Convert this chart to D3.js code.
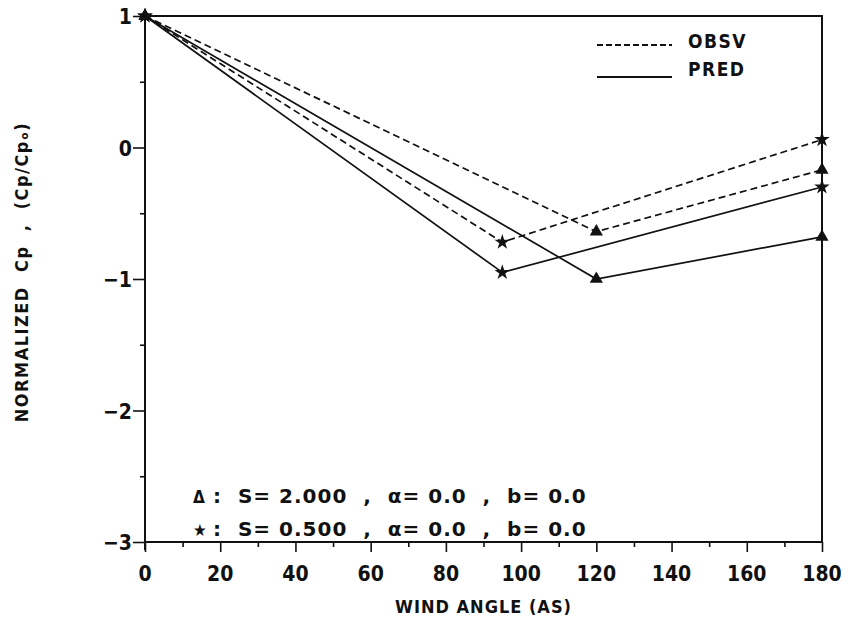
<!DOCTYPE html>
<html>
<head>
<meta charset="utf-8">
<script src="https://cdn.jsdelivr.net/npm/d3@7"></script>
<style>
  body { margin: 0; background: #fff; }
  text { font-family: "DejaVu Sans Condensed", "DejaVu Sans", sans-serif; font-weight: bold; fill: #111; }
</style>
</head>
<body>
<div id="chart"></div>
<script>
// wind angles and normalized Cp
var anglesTri = [0, 120, 180];
var obsvTri = [1, -0.64, -0.17];
var predTri = [1, -1.0, -0.68];

var anglesStar = [0, 95, 180];
var obsvStar = [1, -0.72, 0.06];
var predStar = [1, -0.95, -0.30];

var xTicks = [0, 20, 40, 60, 80, 100, 120, 140, 160, 180];
var yTicks = [1, 0, -1, -2, -3];

var W = 854, H = 623;
var pLeft = 145, pRight = 822, pTop = 16, pBottom = 542;

var svg = d3.select("#chart").append("svg")
    .attr("width", W)
    .attr("height", H);

var x = d3.scaleLinear().domain([0, 180]).range([pLeft, pRight]);
var y = d3.scaleLinear().domain([-3, 1]).range([pBottom, pTop]);

// box
svg.append("rect")
  .attr("x", pLeft).attr("y", pTop)
  .attr("width", pRight - pLeft).attr("height", pBottom - pTop)
  .attr("fill", "none").attr("stroke", "#111").attr("stroke-width", 2);

// x axis, ticks point down
svg.append("g")
  .attr("transform", "translate(0," + pBottom + ")")
  .call(d3.axisBottom(x).tickValues(d3.range(0, 181, 10)).tickSize(6).tickFormat(""))
  .call(function(g) { g.select(".domain").remove(); })
  .selectAll("line").attr("stroke", "#111").attr("stroke-width", 1.6)
  .attr("y2", function(d) { return d % 20 === 0 ? 10 : 5; });

svg.append("g")
  .attr("transform", "translate(0," + pBottom + ")")
  .selectAll("text")
  .data(xTicks)
  .enter()
  .append("text")
    .attr("x", function(d) { return x(d); })
    .attr("y", 39)
    .attr("text-anchor", "middle")
    .style("font-size", "21px")
    .text(function(d) { return d; });

// y axis, ticks point out to the left
svg.append("g")
  .attr("transform", "translate(" + pLeft + ",0)")
  .call(d3.axisLeft(y).tickValues(d3.range(-3, 1.01, 0.5)).tickSize(6).tickFormat(""))
  .call(function(g) { g.select(".domain").remove(); })
  .selectAll("line").attr("stroke", "#111").attr("stroke-width", 1.6)
  .attr("x2", function(d) { return Number.isInteger(d) ? -12 : -5; });

svg.append("g")
  .selectAll("text")
  .data(yTicks)
  .enter()
  .append("text")
    .attr("x", pLeft - 13)
    .attr("y", function(d) { return y(d) + 8; })
    .attr("text-anchor", "end")
    .style("font-size", "21px")
    .text(function(d) { return d < 0 ? "\u2212" + Math.abs(d) : d; });

// small overshoot of the y axis below the corner
svg.append("line")
  .attr("x1", pLeft).attr("x2", pLeft)
  .attr("y1", pBottom).attr("y2", pBottom + 8)
  .attr("stroke", "#111").attr("stroke-width", 2);

// axis titles
svg.append("text")
  .attr("x", (pLeft + pRight) / 2)
  .attr("y", 613)
  .attr("text-anchor", "middle")
  .style("font-size", "18px")
  .style("letter-spacing", "1px")
  .text("WIND ANGLE (AS)");

svg.append("text")
  .attr("transform", "translate(28,272)rotate(-90)")
  .attr("text-anchor", "middle")
  .style("font-size", "18px")
  .style("letter-spacing", "1.5px")
  .attr("xml:space", "preserve").style("white-space", "pre")
  .text("NORMALIZED  Cp  ,  (Cp/Cp\u2092)");

// lines
var line = d3.line()
  .x(function(d) { return x(d[0]); })
  .y(function(d) { return y(d[1]); });

function series(angles, vals, dashed, shape) {
  var pts = angles.map(function(a, i) { return [a, vals[i]]; });
  svg.append("path")
    .datum(pts)
    .attr("d", line)
    .attr("fill", "none")
    .attr("stroke", "#111")
    .attr("stroke-width", 1.7)
    .attr("stroke-dasharray", dashed ? "7,4" : null);
  svg.selectAll(null)
    .data(pts)
    .enter()
    .append("path")
      .attr("transform", function(d) { return "translate(" + x(d[0]) + "," + y(d[1]) + ")"; })
      .attr("d", d3.symbol().type(shape).size(75))
      .attr("fill", "#111");
}

series(anglesTri, obsvTri, true, d3.symbolTriangle);
series(anglesTri, predTri, false, d3.symbolTriangle);
series(anglesStar, obsvStar, true, d3.symbolStar);
series(anglesStar, predStar, false, d3.symbolStar);

// legend
var leg = svg.append("g");
leg.append("line")
  .attr("x1", 597).attr("x2", 672).attr("y1", 45).attr("y2", 45)
  .attr("stroke", "#111").attr("stroke-width", 2).attr("stroke-dasharray", "6,3");
leg.append("text").attr("x", 688).attr("y", 48).style("font-size", "19px")
  .style("letter-spacing", "1.5px").text("OBSV");
leg.append("line")
  .attr("x1", 597).attr("x2", 672).attr("y1", 77).attr("y2", 77)
  .attr("stroke", "#111").attr("stroke-width", 2);
leg.append("text").attr("x", 688).attr("y", 76).style("font-size", "19px")
  .style("letter-spacing", "1.5px").text("PRED");

// parameter notes
var notes = [
  ["\u0394", "S= 2.000 , \u03b1= 0.0 , b= 0.0", 503],
  ["\u2605", "S= 0.500 , \u03b1= 0.0 , b= 0.0", 536]
];
notes.forEach(function(n) {
  svg.append("text").attr("x", 193).attr("y", n[2]).style("font-size", "17px").text(n[0]);
  svg.append("text").attr("x", 213).attr("y", n[2])
    .style("font-family", "'DejaVu Sans', sans-serif")
    .style("font-size", "20px").style("letter-spacing", "1px")
    .attr("xml:space", "preserve").style("white-space", "pre")
    .text(":  " + n[1].replace(/ , /g, "  ,  "));
});
</script>
</body>
</html>
